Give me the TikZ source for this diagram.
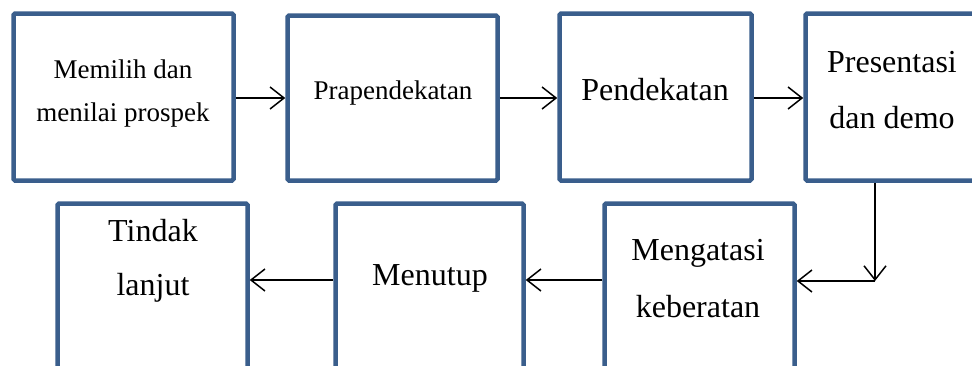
\documentclass[tikz,border=0pt]{standalone}
\usepackage{fontspec}
\setmainfont{Liberation Serif}
\usetikzlibrary{arrows.meta}
\definecolor{boxblue}{RGB}{58,94,140}
\tikzset{
  stage/.style={draw=boxblue, line width=4.5pt, rounded corners=1.5pt, fill=white, inner sep=0pt},
  small/.style={align=center, font=\fontsize{27}{43}\selectfont},
  big/.style={align=center, font=\fontsize{32}{56}\selectfont},
  flow/.style={-{Straight Barb[length=14pt,width=22pt]}, line width=1.5pt},
}
\begin{document}
\begin{tikzpicture}[x=1pt,y=-1pt]
\useasboundingbox (0,0) rectangle (972,365);
\clip (0,0) rectangle (972,365);
% upper row
\node[stage, minimum width=220pt, minimum height=167pt] (pilih) at (123.5,97) {};
\node[stage, minimum width=210pt, minimum height=165pt] (pra) at (392.5,98) {};
\node[stage, minimum width=192pt, minimum height=167pt] (dekat) at (655.5,97) {};
\node[stage, minimum width=200pt, minimum height=167pt] (demo) at (905.5,97) {};
\node[small] (pilihtxt) at (123,93.5) {Memilih dan\\menilai prospek};
\node[small] (pratxt) at (393,93) {Prapendekatan};
\node[big] (dekattxt) at (655,90) {Pendekatan};
\node[big] (demotxt) at (892,90) {Presentasi\\dan demo};
% lower row
\node[stage, minimum width=190pt, minimum height=216pt] (lanjut) at (152.5,311.5) {};
\node[stage, minimum width=188pt, minimum height=216pt] (tutup) at (429.5,311.5) {};
\node[stage, minimum width=190pt, minimum height=216pt] (atasi) at (699.5,311.5) {};
\node[big, font=\fontsize{32}{54}\selectfont] (lanjuttxt) at (153,261) {Tindak\\lanjut};
\node[big] (tutuptxt) at (430,278) {Menutup};
\node[big, font=\fontsize{32}{57}\selectfont] (atasitxt) at (698,279) {Mengatasi\\keberatan};
% arrows
\coordinate (belok) at (875,281);
\draw[flow] (pilih.east |- 0,98) -- (pra.west |- 0,98);
\draw[flow] (pra.east |- 0,98) -- (dekat.west |- 0,98);
\draw[flow] (dekat.east |- 0,98) -- (demo.west |- 0,98);
\draw[flow] (demo.south -| belok) -- (belok);
\draw[flow] (belok) -- (belok -| atasi.east);
\draw[flow] (atasi.west |- 0,280) -- (tutup.east |- 0,280);
\draw[flow] (tutup.west |- 0,280) -- (lanjut.east |- 0,280);
\end{tikzpicture}
\end{document}
